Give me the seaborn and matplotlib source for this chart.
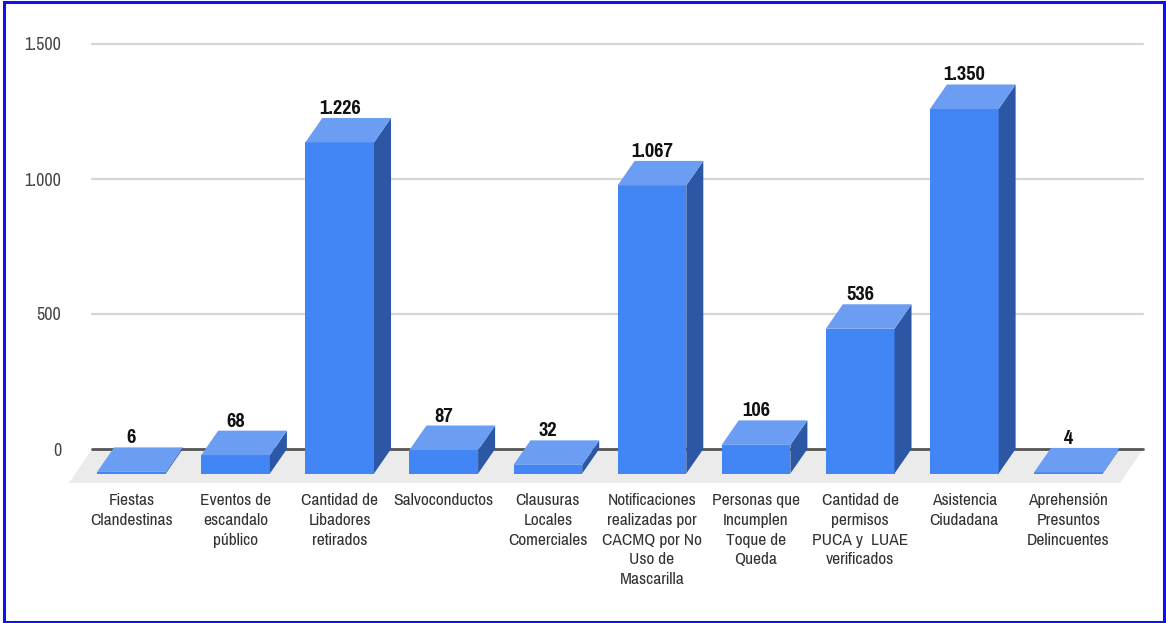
import matplotlib
matplotlib.use("Agg")
import matplotlib.pyplot as plt
from matplotlib.patches import Polygon, Rectangle
import matplotlib.font_manager as fm
import seaborn as sns
import pandas as pd

# ---- data ----
categories = [
    "Fiestas\nClandestinas",
    "Eventos de\nescandalo\npúblico",
    "Cantidad de\nLibadores\nretirados",
    "Salvoconductos",
    "Clausuras\nLocales\nComerciales",
    "Notificaciones\nrealizadas por\nCACMQ por No\nUso de\nMascarilla",
    "Personas que\nIncumplen\nToque de\nQueda",
    "Cantidad de\npermisos\nPUCA y  LUAE\nverificados",
    "Asistencia\nCiudadana",
    "Aprehensión\nPresuntos\nDelincuentes",
]
values = [6, 68, 1226, 87, 32, 1067, 106, 536, 1350, 4]
yticks = [0, 500, 1000, 1500]
ytick_labels = ["0", "500", "1.000", "1.500"]

def fmt(v):
    return f"{v:,}".replace(",", ".")

# ---- fonts ----
names = {f.name for f in fm.fontManager.ttflist}
narrow = None
for cand in ["Pragati Narrow", "Liberation Sans Narrow", "Arial Narrow", "PT Sans Narrow",
             "Roboto Condensed", "Archivo Narrow"]:
    if cand in names:
        narrow = cand
        break
sns.set_theme(style="white")
if narrow:
    plt.rcParams["font.family"] = [narrow, "DejaVu Sans"]
else:
    plt.rcParams["font.family"] = ["DejaVu Sans"]
    plt.rcParams["font.stretch"] = "condensed"

# ---- layout ----
W, H = 1166, 623
fig = plt.figure(figsize=(W / 100, H / 100), dpi=100)
ax_l, ax_r, ax_t, ax_b = 92, 1143, 44, 449
ax = fig.add_axes([ax_l / W, 1 - ax_b / H, (ax_r - ax_l) / W, (ax_b - ax_t) / H])

df = pd.DataFrame({"cat": list(range(len(values))), "val": values})
bar_w = 0.66
sns.barplot(data=df, x="cat", y="val", order=list(range(len(values))), width=bar_w,
            color="#4285F4", saturation=1, linewidth=0, ax=ax, zorder=3)

ax.set_xlim(-0.379, 9.717)
ax.set_ylim(0, 1500)

# depth offsets (data units)
px_per_cat = (ax_r - ax_l) / (9.717 + 0.379)
px_per_val = (ax_b - ax_t) / 1500
ddx = 17 / px_per_cat
ddy = 24.5 / px_per_val

top_c = "#6B9DF3"
side_c = "#2B57A5"

for p, v in zip(ax.patches, values):
    x0 = p.get_x()
    w = p.get_width()
    h = p.get_height()
    p.set_y(-ddy)
    p.set_clip_on(False)
    y0, y1 = -ddy, h - ddy
    top = Polygon([(x0, y1), (x0 + w, y1), (x0 + w + ddx, y1 + ddy), (x0 + ddx, y1 + ddy)],
                  closed=True, facecolor=top_c, edgecolor="none", zorder=3, clip_on=False)
    side = Polygon([(x0 + w, y0), (x0 + w + ddx, y0 + ddy), (x0 + w + ddx, y1 + ddy), (x0 + w, y1)],
                   closed=True, facecolor=side_c, edgecolor="none", zorder=3, clip_on=False)
    ax.add_patch(side)
    ax.add_patch(top)
    ax.annotate(fmt(v), xy=(x0 + w / 2, h), xytext=(0, 0), textcoords="offset points",
                ha="center", va="bottom", fontsize=16, fontweight="bold",
                color="#111111", zorder=5, annotation_clip=False)

# floor
fx_shift = 23 / px_per_cat
fy_shift = 34 / px_per_val
xl, xr = ax.get_xlim()
floor = Polygon([(xl, 0), (xr, 0), (xr - fx_shift, -fy_shift), (xl - fx_shift, -fy_shift)],
                closed=True, facecolor="#EBEBEB", edgecolor="none", zorder=0.5, clip_on=False)
ax.add_patch(floor)

# grid
for yv in yticks[1:]:
    ax.axhline(yv, color="#D6D6D6", lw=1.6, zorder=1, clip_on=False)
ax.axhline(0, color="#555555", lw=2.0, zorder=1.5, clip_on=False)

for s in ax.spines.values():
    s.set_visible(False)

ax.set_yticks(yticks, ytick_labels)
ax.tick_params(axis="y", length=0, pad=22, labelsize=14, labelcolor="#444444")
ax.set_xticks(list(range(len(values))), categories)
ax.tick_params(axis="x", length=0, pad=32, labelsize=13.6, labelcolor="#333333")
for t in ax.get_xticklabels():
    t.set_linespacing(1.38)
ax.set_xlabel("")
ax.set_ylabel("")
ax.set_facecolor("none")

# blue frame
fig.patches.append(Rectangle((4 / W, 1.5 / H), (W - 6.5) / W, (H - 3.5) / H,
                             transform=fig.transFigure, fill=False,
                             edgecolor="#1010F0", lw=2.2, zorder=10))

fig.savefig("out.png", dpi=100, facecolor="white")
